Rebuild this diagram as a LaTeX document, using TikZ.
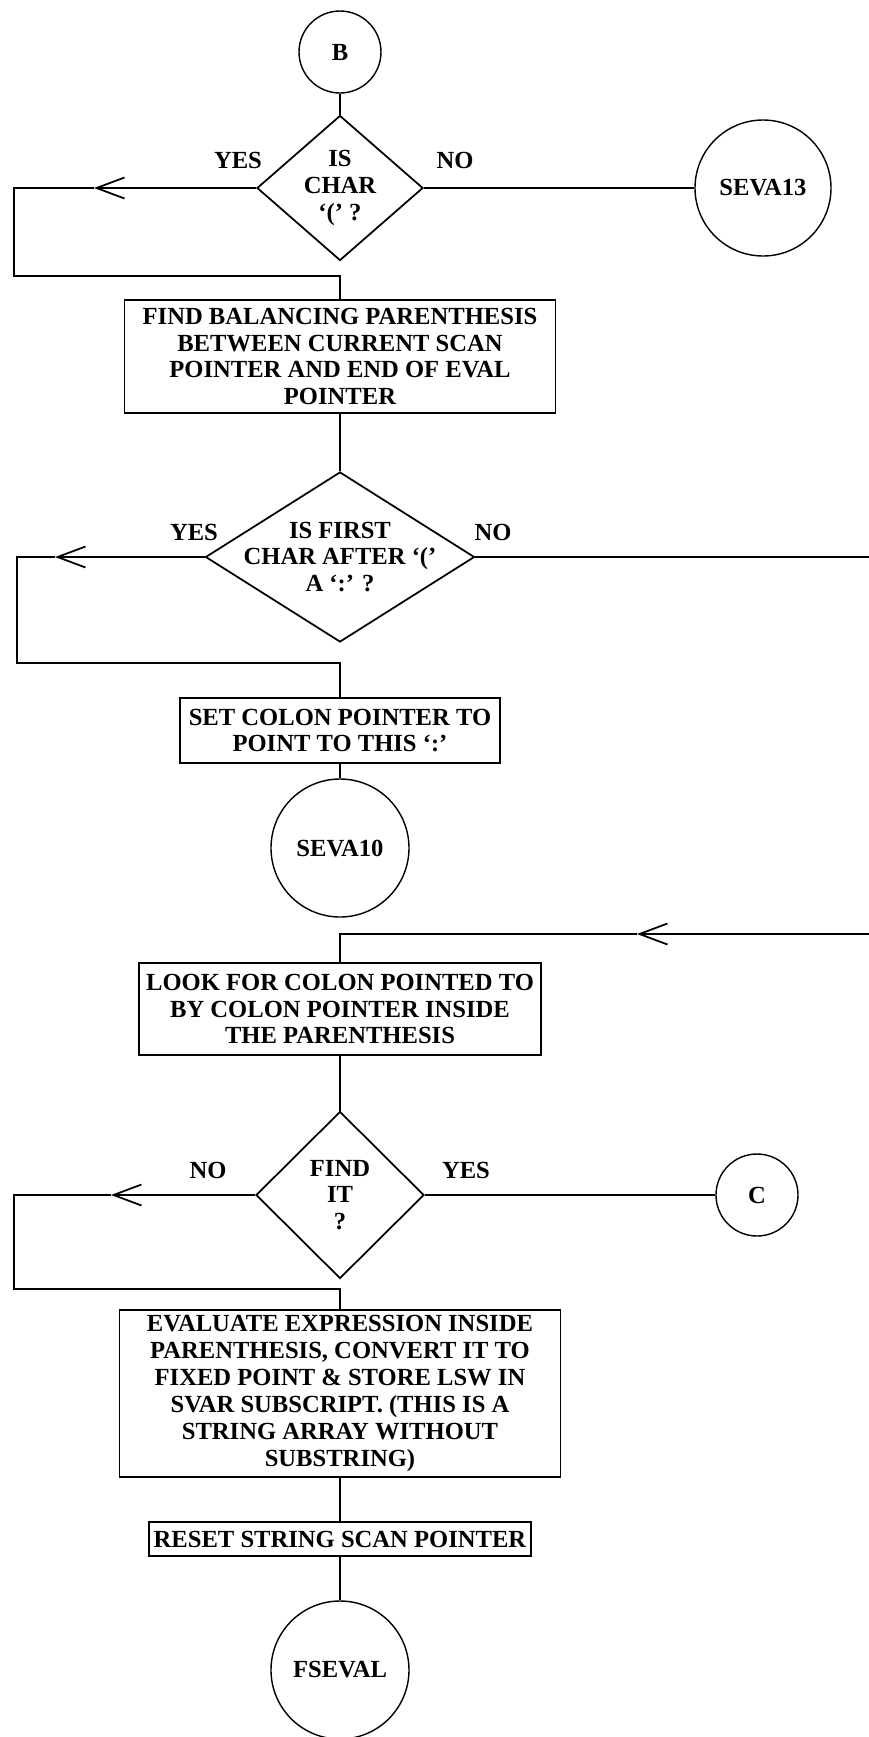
\documentclass[tikz,border=0pt]{standalone}
\usepackage{fontspec}
\setmainfont{Liberation Serif}
\usepackage{tikz}
\usetikzlibrary{shapes.geometric,arrows.meta,positioning}

\begin{document}
\begin{tikzpicture}[
  font=\fontsize{14}{15.3}\selectfont\bfseries,
  box/.style={rectangle, draw, line width=1pt, align=center, inner sep=2pt},
  dec/.style={diamond, draw, line width=1pt, inner sep=0pt},
  conn/.style={circle, draw, line width=0.8pt, inner sep=0pt},
  line/.style={line width=1pt},
  arr/.style={line width=1pt, -{Straight Barb[length=0.56cm,width=0.42cm]}}
]
\useasboundingbox (0,0) rectangle (17.38,-34.74);
\node[conn, minimum size=1.64cm] (b) at (6.8,-1.04) {B};
\node[dec, minimum width=3.32cm, minimum height=2.9cm,
      label={[align=center]center:{IS\\CHAR\\`(' ?}}] (d1) at (6.8,-3.76) {};
\node[conn, minimum size=2.72cm] (seva13) at (15.26,-3.76) {SEVA13};
\node (y1) at (4.76,-3.2) {YES};
\node (n1) at (9.1,-3.2) {NO};
\node[box, minimum width=8.62cm, minimum height=2.26cm] (box1) at (6.8,-7.13)
  {FIND BALANCING PARENTHESIS\\BETWEEN CURRENT SCAN\\POINTER AND END OF EVAL\\POINTER};
\node[dec, minimum width=5.38cm, minimum height=3.4cm,
      label={[align=center]center:{IS FIRST\\CHAR AFTER `('\\A `:' ?}}] (d2) at (6.8,-11.14) {};
\node (y2) at (3.88,-10.64) {YES};
\node (n2) at (9.86,-10.64) {NO};
\node[box, minimum width=6.4cm, minimum height=1.3cm] (box2) at (6.8,-14.61)
  {SET COLON POINTER TO\\POINT TO THIS `:'};
\node[conn, minimum size=2.76cm] (seva10) at (6.8,-16.96) {SEVA10};
\node[box, minimum width=8.04cm, minimum height=1.84cm] (box3) at (6.8,-20.18)
  {LOOK FOR COLON POINTED TO\\BY COLON POINTER INSIDE\\THE PARENTHESIS};
\node[dec, minimum width=3.36cm, minimum height=3.34cm,
      label={[align=center]center:{FIND\\IT\\?}}] (d3) at (6.8,-23.9) {};
\node[conn, minimum size=1.64cm] (c) at (15.14,-23.9) {C};
\node (n3) at (4.16,-23.4) {NO};
\node (y3) at (9.32,-23.4) {YES};
\node[box, minimum width=8.82cm, minimum height=3.34cm] (box4) at (6.8,-27.87)
  {EVALUATE EXPRESSION INSIDE\\PARENTHESIS, CONVERT IT TO\\FIXED POINT \& STORE LSW IN\\SVAR SUBSCRIPT. (THIS IS A\\STRING ARRAY WITHOUT\\SUBSTRING)};
\node[box, minimum width=7.64cm, minimum height=0.68cm] (box5) at (6.8,-30.78)
  {RESET STRING SCAN POINTER};
\node[conn, minimum size=2.76cm] (fseval) at (6.8,-33.4) {FSEVAL};
\coordinate (a1) at (1.88,-3.76);
\coordinate (l1) at (0.28,-5.52);
\coordinate (a2) at (1.1,-11.14);
\coordinate (l2) at (0.34,-13.26);
\coordinate (e2) at (17.38,-11.14);
\coordinate (e3) at (17.38,-18.68);
\coordinate (a3) at (12.74,-18.68);
\coordinate (a4) at (2.22,-23.9);
\coordinate (l4) at (0.28,-25.78);
\draw[line] (b)--(d1);
\draw[line] (d1.east)--(seva13);
\draw[arr] (d1.west)--(a1);
\draw[line] (a1) -| (l1) -| (box1.north);
\draw[line] (box1)--(d2);
\draw[arr] (d2.west)--(a2);
\draw[line] (a2) -| (l2) -| (box2.north);
\draw[line] (d2.east)--(e2);
\draw[line] (box2)--(seva10);
\draw[arr] (e3)--(a3);
\draw[line] (a3) -| (box3.north);
\draw[line] (box3)--(d3);
\draw[line] (d3.east)--(c);
\draw[arr] (d3.west)--(a4);
\draw[line] (a4) -| (l4) -| (box4.north);
\draw[line] (box4)--(box5);
\draw[line] (box5)--(fseval);
\end{tikzpicture}
\end{document}
